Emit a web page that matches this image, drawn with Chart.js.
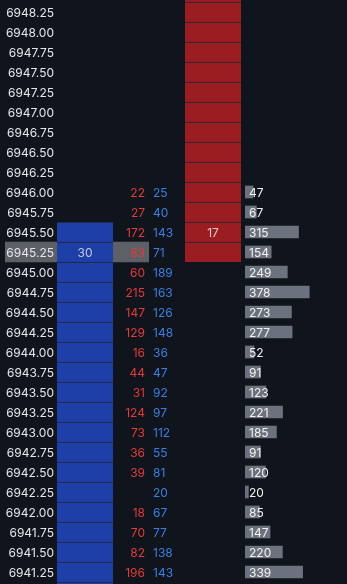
<!DOCTYPE html>
<html>
<head>
<meta charset="utf-8">
<script src="https://cdn.jsdelivr.net/npm/chart.js@4.4.1/dist/chart.umd.min.js"></script>
<style>
  html, body { margin: 0; padding: 0; background: #10141c; overflow: hidden; }
  body { width: 347px; height: 584px; position: relative; }
  .col { position: absolute; top: -18px; height: 620px; }
  #priceCol { left: 5px; width: 52px; }
  #bidCol { left: 57px; width: 56px; }
  #sellCol { left: 113px; width: 36px; }
  #buyCol { left: 149px; width: 36px; }
  #askCol { left: 185px; width: 56px; }
  #volCol { left: 245px; width: 102px; }
</style>
</head>
<body>
<div class="col" id="priceCol"><canvas id="price"></canvas></div>
<div class="col" id="bidCol"><canvas id="bid"></canvas></div>
<div class="col" id="sellCol"><canvas id="sell"></canvas></div>
<div class="col" id="buyCol"><canvas id="buy"></canvas></div>
<div class="col" id="askCol"><canvas id="ask"></canvas></div>
<div class="col" id="volCol"><canvas id="vol"></canvas></div>
<script>
// price ladder, top to bottom (first and last rows are cut off by the window)
const prices = ['6948.50', '6948.25', '6948.00', '6947.75', '6947.50', '6947.25', '6947.00',
  '6946.75', '6946.50', '6946.25', '6946.00', '6945.75', '6945.50', '6945.25', '6945.00',
  '6944.75', '6944.50', '6944.25', '6944.00', '6943.75', '6943.50', '6943.25', '6943.00',
  '6942.75', '6942.50', '6942.25', '6942.00', '6941.75', '6941.50', '6941.25', '6941.00'];
const lastPrice = '6945.25';

// resting orders: 1 = level has orders, size shown only at the inside market
const bidLevels = [0, 0, 0, 0, 0, 0, 0, 0, 0, 0, 0, 0, 1, 1, 1, 1, 1, 1, 1, 1, 1, 1, 1, 1, 1, 1, 1, 1, 1, 1, 1];
const bidSizes = [null, null, null, null, null, null, null, null, null, null, null, null, null, 30, null, null,
  null, null, null, null, null, null, null, null, null, null, null, null, null, null, null];
const askLevels = [1, 1, 1, 1, 1, 1, 1, 1, 1, 1, 1, 1, 1, 1, 0, 0, 0, 0, 0, 0, 0, 0, 0, 0, 0, 0, 0, 0, 0, 0, 0];
const askSizes = [null, null, null, null, null, null, null, null, null, null, null, null, 17, null, null, null,
  null, null, null, null, null, null, null, null, null, null, null, null, null, null, null];

// traded volume at bid (sells) and at ask (buys)
const sells = [null, null, null, null, null, null, null, null, null, null, 22, 27, 172, 83, 60, 215,
  147, 129, 16, 44, 31, 124, 73, 36, 39, null, 18, 70, 82, 196, null];
const buys = [null, null, null, null, null, null, null, null, null, null, 25, 40, 143, 71, 189, 163,
  126, 148, 36, 47, 92, 97, 112, 55, 81, 20, 67, 77, 138, 143, null];
const volume = [null, null, null, null, null, null, null, null, null, null, 47, 67, 315, 154, 249, 378,
  273, 277, 52, 91, 123, 221, 185, 91, 120, 20, 85, 147, 220, 339, null];

const FONT = '12px Inter, "DejaVu Sans", sans-serif';
const SEP = '#1f2633';
const highlight = prices.map(p => p === lastPrice ? 1 : null);

// writes one text per row, centred on the row the y scale gives
const cellText = {
  id: 'cellText',
  afterDatasetsDraw(chart, args, opts) {
    if (!opts.values) return;
    const { ctx, chartArea, scales } = chart;
    ctx.save();
    ctx.font = FONT;
    ctx.textBaseline = 'middle';
    ctx.textAlign = opts.align;
    ctx.fillStyle = opts.color;
    opts.values.forEach((v, i) => {
      if (v == null) return;
      let x;
      if (opts.align === 'center') x = (chartArea.left + chartArea.right) / 2;
      else if (opts.align === 'right') x = chartArea.right - opts.pad;
      else x = chartArea.left + opts.pad;
      ctx.fillText(String(v), x, scales.y.getPixelForValue(i) + 1);
    });
    ctx.restore();
  }
};
Chart.register(cellText);

function column(id, datasets, xMax, text) {
  return new Chart(document.getElementById(id), {
    type: 'bar',
    data: { labels: prices, datasets: datasets },
    options: {
      indexAxis: 'y',
      responsive: true,
      maintainAspectRatio: false,
      animation: false,
      layout: { padding: 0 },
      scales: {
        x: { display: false, min: 0, max: xMax },
        y: { display: false }
      },
      plugins: {
        legend: { display: false },
        tooltip: { enabled: false },
        cellText: text || {}
      }
    }
  });
}

function cells(data, color, sep) {
  return {
    data: data,
    backgroundColor: color,
    borderColor: SEP,
    borderWidth: sep ? { top: 1, bottom: 0, left: 0, right: 0 } : 0,
    borderSkipped: false,
    categoryPercentage: 1,
    barPercentage: 1
  };
}

column('price', [cells(highlight, '#5d6066', false)], 1,
  { values: prices, align: 'right', color: '#e4e7eb', pad: 3 });

column('bid', [cells(bidLevels, '#1f3fa8', true)], 1,
  { values: bidSizes, align: 'center', color: '#c3cbe4', pad: 0 });

column('sell', [cells(highlight, '#5d6066', false)], 1,
  { values: sells, align: 'right', color: '#e23b3b', pad: 4 });

column('buy', [], 1,
  { values: buys, align: 'left', color: '#3d7fe0', pad: 4 });

column('ask', [cells(askLevels, '#9a1d21', true)], 1,
  { values: askSizes, align: 'center', color: '#e6c6c6', pad: 0 });

column('vol', [{
  data: volume,
  backgroundColor: '#6c727d',
  barThickness: 12
}], 600, { values: volume, align: 'left', color: '#f2f2f2', pad: 4 });
</script>
</body>
</html>
